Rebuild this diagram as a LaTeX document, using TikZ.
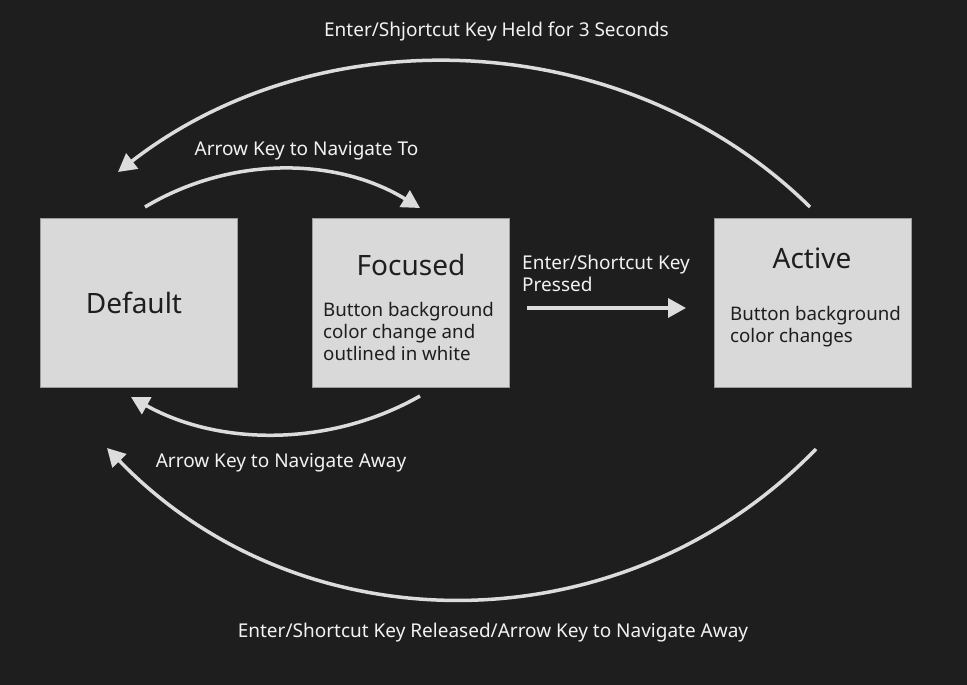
\documentclass[tikz,border=0pt]{standalone}
\usepackage{fontspec}
\setmainfont{Noto Sans}
\usetikzlibrary{arrows.meta}
\definecolor{bg}{HTML}{1E1E1E}
\definecolor{boxfill}{HTML}{D9D9D9}
\definecolor{boxline}{HTML}{9C9C9C}
\definecolor{wire}{HTML}{DCDCDC}
\definecolor{labeltext}{HTML}{F2F2F2}
\definecolor{boxtext}{HTML}{1E1E1E}
\begin{document}
\begin{tikzpicture}[x=1pt,y=-1pt,
 statebox/.style={draw=boxline, line width=1pt, fill=boxfill, minimum width=197pt, minimum height=169pt, inner sep=0pt},
 titletext/.style={text=boxtext, font=\fontsize{28}{32}\selectfont, inner sep=0pt, anchor=base},
 bodytext/.style={text=boxtext, font=\fontsize{18.7}{22}\selectfont, inner sep=0pt, anchor=base west, align=left},
 lbl/.style={text=labeltext, font=\fontsize{19}{22}\selectfont, inner sep=0pt},
 wirearrow/.style={draw=wire, line width=3.5pt, -{Triangle[length=18pt,width=19pt]}}
]
\fill[bg] (0,0) rectangle (967,685);
\useasboundingbox (0,0) rectangle (967,685);

% state boxes
\node[statebox] (default) at (138.5,302.5) {};
\node[statebox] (focused) at (411,302.5) {};
\node[statebox] (active) at (812.5,302.5) {};

\node[titletext] (defaulttitle) at (134,313) {Default};
\node[titletext] (focusedtitle) at (411,275) {Focused};
\node[bodytext] (focusedbody) at (323,360) {Button background\\color change and\\outlined in white};
\node[titletext] (activetitle) at (812,268) {Active};
\node[bodytext] (activebody) at (730,342) {Button background\\color changes};

% connector end points
\coordinate (heldstart) at (810,207);
\coordinate (heldend) at (118,172);
\coordinate (tostart) at (145,207);
\coordinate (toend) at (420,208);
\coordinate (pressstart) at (527,308);
\coordinate (pressend) at (686,308);
\coordinate (awaystart) at (420,396);
\coordinate (awayend) at (131,397);
\coordinate (relstart) at (816,449);
\coordinate (relend) at (107,448);

% connectors
\draw[wirearrow] (heldstart) .. controls (625,25) and (320,15) .. (heldend);
\draw[wirearrow] (tostart) .. controls (229.7,156.3) and (335.3,156.3) .. (toend);
\draw[wirearrow] (pressstart) -- (pressend);
\draw[wirearrow] (awaystart) .. controls (331,446.7) and (220,446.7) .. (awayend);
\draw[wirearrow] (relstart) .. controls (621.9,649) and (301.1,649) .. (relend);

% labels
\node[lbl, anchor=base] (heldlbl) at (496.5,37) {Enter/Shjortcut Key Held for 3 Seconds};
\node[lbl, anchor=base] (tolbl) at (306.5,155) {Arrow Key to Navigate To};
\node[lbl, anchor=base west, align=left] (presslbl) at (522,291) {Enter/Shortcut Key\\Pressed};
\node[lbl, anchor=base] (awaylbl) at (281,467) {Arrow Key to Navigate Away};
\node[lbl, anchor=base] (rellbl) at (493,637) {Enter/Shortcut Key Released/Arrow Key to Navigate Away};
\end{tikzpicture}
\end{document}
